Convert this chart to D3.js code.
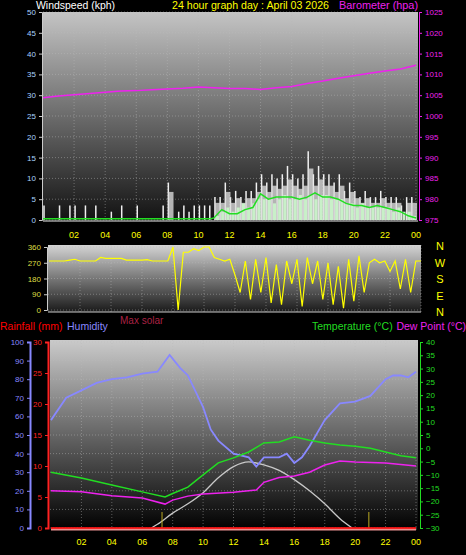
<!DOCTYPE html>
<html><head><meta charset="utf-8">
<script src="https://cdn.jsdelivr.net/npm/d3@7"></script>
<style>body{margin:0;background:#000}svg{display:block;font-family:"Liberation Sans",Arial,sans-serif}</style>
</head><body><svg id="c" width="466" height="555"></svg>
<script>
// ---- data ----
const xTickLabels=["02","04","06","08","10","12","14","16","18","20","22","00"];
const gust=[3.5,0,0, 3.5,0,3.5, 3.5,0,3.5, 0,3.5,0, 0,2,0, 3.5,0,0, 3.5,0,0, 0,0,3.5,
 9,0,2, 3.5,2,3.5, 3.5,3.5,3.5, 5.5,5.5,9, 5.5,7,5.5, 7,7,9, 11,9,11, 10,11,13, 11,10,11,
 16.5,11,13, 11,11,9, 11,7,9, 7,5.5,7, 5.5,5.5,7, 5.5,5.5,5.5, 3.5,5.5,5.5];
const avgWind=[0,0,0,0,0,0,0,0,0,0,0,0,0,0,0,0,0,0,0,0,0,0,0,0,0,0,0,0,0,0,0,0,0,
 1,2,3, 2,3,4, 3,4,5, 5,5,4, 5,6,5, 5,6,5, 6,5,6, 6,5,5, 5,4,4, 3,4,3, 3,3,3, 3,2,3, 2,2,1];
const windLineHours=[0,10.8,11,11.5,12,12.5,13,13.5,14,14.5,15,15.5,16,16.5,17,17.5,18,18.5,19,19.5,20,20.5,21,21.5,22,22.5,23,23.5,24];
const windLineVals=[0.3,0.3,0.5,2.5,1.5,1.5,2.5,3,6.3,5,5.5,5.5,5.5,5,5.5,6.5,5.5,5.5,5,4,3.5,3.5,3,3.5,3,2.5,2,1,0.5];
const baroHours=[0,1,2,3,4,5,6,7,8,9,10,11,12,13,14,15,16,17,18,19,20,21,22,23,24];
const baroVals=[1004.4,1004.8,1005.1,1005.4,1005.7,1006,1006.1,1006.3,1006.5,1006.7,1007,1006.8,1006.6,1006.6,1006.4,1006.8,1007.1,1007.8,1008.4,1009.1,1009.7,1010.3,1010.8,1011.3,1012.2];
const dirVals=[280,280,280, 280,285,290, 280,280,280, 280,300,295, 295,295,295, 285,285,285, 285,288,280, 280,280,280,
 360,0,330, 330,350,340, 360,360,300, 290,280,290, 200,100,280, 60,290,100, 300,40,260, 30,280,150,
 290,20,300, 150,280,60, 270,30,250, 10,290,50, 310,100,270, 290,270,280, 220,280,120, 290,100,280, 280];
const humHours=[0,1,2,3,4,5,6,7,7.8,8.5,9,10,10.5,11,12,13,13.5,14,15,15.5,16,16.5,17,17.5,18,19,20,21,22,22.5,23,23.5,24];
const humVals=[58,70,74,78,80,81,83,84,93,86,82,65,53,47,40,38,33,38,38,40,35,38,44,51,58,67,68,71,80,82,82,81,84];
const tempHours=[0,2,4,6,7.5,8,9,10,11,12,13,14,15,16,17,18,19,20,21,22,23,24];
const tempVals=[-9,-11.2,-13.8,-16.4,-18.3,-17,-14.6,-10,-5.5,-3.6,-1.4,2,2.4,4.3,3,2,1.2,0.8,0,-1.4,-2.8,-3.6];
const dewHours=[0,2,4,6,7.5,8,9,10,12,13.5,14,15,16,17,18,19,20,22,24];
const dewVals=[-16,-16.4,-17.9,-18.7,-21,-19.5,-18,-17.2,-16.5,-15.7,-12.8,-11,-10.4,-9,-6.3,-4.8,-5.2,-5.5,-6.7];
const solarHours=[6.6,7,8,9,10,11,12,13,14,15,16,17,18,19,19.8];
const solarVals=[0,2,8,13,19,27,33,35.5,34,31,26,20,13,5,0];
const sunMarks=[7.3,20.9];

const svg=d3.select("#c");
const defs=svg.append("defs");
function grad(id,top,bot){const g=defs.append("linearGradient").attr("id",id).attr("x1",0).attr("x2",0).attr("y1",0).attr("y2",1);
 g.append("stop").attr("offset",0).attr("stop-color",top);g.append("stop").attr("offset",1).attr("stop-color",bot);}
grad("g1","#c4c4c4","#111");grad("g2","#d4d4d4","#1a1a1a");grad("g3","#cacaca","#000");

function text(x,y,t,c,anchor,size,len){const e=svg.append("text").attr("x",x).attr("y",y).text(t).attr("fill",c).attr("text-anchor",anchor||"start").attr("font-size",size||9);
 if(len)e.attr("textLength",len).attr("lengthAdjust","spacingAndGlyphs");}
function grid(x,y,x0,x1,y0,y1,yt){
 const g=svg.append("g").attr("stroke","#bbb").attr("stroke-opacity",0.45).attr("stroke-dasharray","1,2");
 d3.range(2,25,2).forEach(h=>g.append("line").attr("x1",x(h)).attr("x2",x(h)).attr("y1",y0).attr("y2",y1));
 yt.forEach(v=>g.append("line").attr("x1",x0).attr("x2",x1).attr("y1",y(v)).attr("y2",y(v)));
}
function xAxis(x,ty){xTickLabels.forEach((l,i)=>text(x((i+1)*2),ty,l,"#ffff00","middle",9));}

// ---- top panel ----
const x1=d3.scaleLinear().domain([0,24]).range([43,416]);
const yW=d3.scaleLinear().domain([0,50]).range([220,12]);
const yB=d3.scaleLinear().domain([975,1025]).range([220,12]);
svg.append("rect").attr("x",43).attr("y",12).attr("width",375).attr("height",210).attr("fill","url(#g1)");
grid(x1,yW,43,418,12,222,d3.range(0,55,5));
const bw=(x1(1/3)-x1(0));
svg.append("g").selectAll("line").data(gust).join("line").attr("x1",(d,i)=>x1(i/3)+1).attr("x2",(d,i)=>x1(i/3)+1)
 .attr("y1",d=>yW(d)).attr("y2",yW(0)).attr("stroke","#f0f0f0").attr("stroke-width",1.5);
svg.append("g").selectAll("rect").data(gust).join("rect").attr("x",(d,i)=>x1(i/3)+1).attr("width",d=>d>4?bw:0)
 .attr("y",d=>yW(d*0.75)).attr("height",d=>yW(0)-yW(d*0.75)).attr("fill","#d8d8d8").attr("opacity",0.8);
svg.append("g").selectAll("rect").data(avgWind).join("rect").attr("x",(d,i)=>x1(i/3)+2).attr("width",bw*0.6)
 .attr("y",d=>yW(d)).attr("height",d=>yW(0)-yW(d)).attr("fill","#c8f0c8");
svg.append("line").attr("x1",43).attr("x2",418).attr("y1",yW(0)+1).attr("y2",yW(0)+1).attr("stroke","#ddd");
svg.append("path").datum(windLineHours.map((h,i)=>[h,windLineVals[i]])).attr("fill","none").attr("stroke","#22dd22").attr("stroke-width",1.5)
 .attr("d",d3.line().x(d=>x1(d[0])).y(d=>yW(d[1])));
svg.append("path").datum(baroHours.map((h,i)=>[h,baroVals[i]])).attr("fill","none").attr("stroke","#ee22ee").attr("stroke-width",1.5)
 .attr("d",d3.line().x(d=>x1(d[0])).y(d=>yB(d[1])));
const aw=svg.append("g").attr("transform","translate(42,0)").call(d3.axisLeft(yW).tickValues(d3.range(0,55,5)).tickSize(3).tickFormat(d3.format("d")));
aw.selectAll("text").attr("fill","#aad4ff").attr("font-size",8);aw.selectAll("line,path").attr("stroke","#ccc");
const ab=svg.append("g").attr("transform","translate(419,0)").call(d3.axisRight(yB).tickValues(d3.range(975,1030,5)).tickSize(3).tickFormat(d3.format("d")));
ab.selectAll("text").attr("fill","#ee22ee").attr("font-size",8);ab.selectAll("line,path").attr("stroke","#ee22ee");
xAxis(x1,238);
text(36,9,"Windspeed (kph)","#fff","start",11,79);
text(172,9,"24 hour graph day : April 03 2026","#ffff00","start",11,157);
text(418,9,"Barometer (hpa)","#ee22ee","end",11,79);

// ---- direction panel ----
const x2=d3.scaleLinear().domain([0,24]).range([49,421]);
const yD=d3.scaleLinear().domain([0,360]).range([310,247]);
svg.append("rect").attr("x",48).attr("y",245).attr("width",373).attr("height",67).attr("fill","url(#g2)");
grid(x2,yD,48,421,245,312,[0,90,180,270,360]);
svg.append("path").datum(dirVals).attr("fill","none").attr("stroke","#ffff00").attr("stroke-width",1.2)
 .attr("d",d3.line().x((d,i)=>x2(i/3)).y(d=>yD(d)));
const ad=svg.append("g").attr("transform","translate(47,0)").call(d3.axisLeft(yD).tickValues([0,90,180,270,360]).tickSize(3));
ad.selectAll("text").attr("fill","#dddd44").attr("font-size",8);ad.selectAll("line,path").attr("stroke","#ccc");
svg.append("line").attr("x1",48).attr("x2",421).attr("y1",312).attr("y2",312).attr("stroke","#ccc");
["N","W","S","E","N"].forEach((l,i)=>text(440,250+i*16.5,l,"#ffff00","middle",11));
text(120,324,"Max solar","#aa2244","start",10);

// ---- bottom panel ----
const x3=d3.scaleLinear().domain([0,24]).range([51,416]);
const yH=d3.scaleLinear().domain([0,100]).range([528,342]);
const yT=d3.scaleLinear().domain([-30,40]).range([528,342]);
const yR=d3.scaleLinear().domain([0,30]).range([528,342]);
svg.append("rect").attr("x",50).attr("y",340).attr("width",368).attr("height",190).attr("fill","url(#g3)");
grid(x3,yH,50,418,340,530,d3.range(0,110,10));
svg.append("path").datum(solarHours.map((h,i)=>[h,solarVals[i]])).attr("fill","none").attr("stroke","#c8c8c8").attr("stroke-width",1.3)
 .attr("d",d3.line().curve(d3.curveMonotoneX).x(d=>x3(d[0])).y(d=>yH(d[1])));
sunMarks.forEach(h=>svg.append("line").attr("x1",x3(h)).attr("x2",x3(h)).attr("y1",512).attr("y2",530).attr("stroke","#bbaa22").attr("stroke-width",1));
svg.append("path").datum(humHours.map((h,i)=>[h,humVals[i]])).attr("fill","none").attr("stroke","#8888ff").attr("stroke-width",1.8)
 .attr("d",d3.line().x(d=>x3(d[0])).y(d=>yH(d[1])));
svg.append("path").datum(tempHours.map((h,i)=>[h,tempVals[i]])).attr("fill","none").attr("stroke","#22dd22").attr("stroke-width",1.5)
 .attr("d",d3.line().x(d=>x3(d[0])).y(d=>yT(d[1])));
svg.append("path").datum(dewHours.map((h,i)=>[h,dewVals[i]])).attr("fill","none").attr("stroke","#ee22ee").attr("stroke-width",1.5)
 .attr("d",d3.line().x(d=>x3(d[0])).y(d=>yT(d[1])));
svg.append("line").attr("x1",x3(0)).attr("x2",x3(24)).attr("y1",yR(0)+1).attr("y2",yR(0)+1).attr("stroke","#e89090").attr("stroke-width",3);
svg.append("line").attr("x1",x3(0)).attr("x2",x3(24)).attr("y1",yR(0)).attr("y2",yR(0)).attr("stroke","#ff0000").attr("stroke-width",1.5);
const ah=svg.append("g").attr("transform","translate(30,0)").call(d3.axisLeft(yH).tickValues(d3.range(0,110,10)).tickSize(3));
ah.selectAll("text").attr("fill","#8888ff").attr("font-size",8);ah.selectAll("line").attr("stroke","#8888ff");
ah.select("path").attr("stroke","#8888ff").attr("stroke-width",2);
const ar=svg.append("g").attr("transform","translate(48,0)").call(d3.axisLeft(yR).tickValues(d3.range(0,35,5)).tickSize(3));
ar.selectAll("text").attr("fill","#ff2222").attr("font-size",8);ar.selectAll("line").attr("stroke","#ff2222");
ar.select("path").attr("stroke","#ff2222").attr("stroke-width",2);
const at=svg.append("g").attr("transform","translate(420,0)").call(d3.axisRight(yT).tickValues(d3.range(-30,45,5)).tickSize(3));
at.selectAll("text").attr("fill","#22dd22").attr("font-size",8);at.selectAll("line,path").attr("stroke","#22dd22");
xAxis(x3,545);
text(0,330,"Rainfall (mm)","#ff0000","start",10.5);
text(67,330,"Humidity","#8888ff","start",10.5);
text(312,330,"Temperature (°C)","#22dd22","start",10.5);
text(466,330,"Dew Point (°C)","#ee22ee","end",10.5);
</script></body></html>
